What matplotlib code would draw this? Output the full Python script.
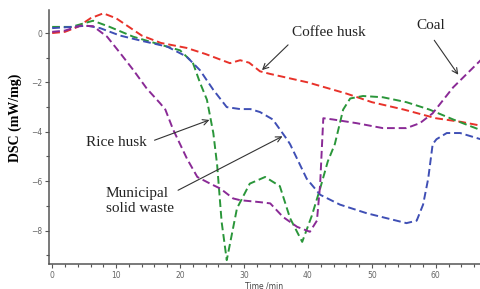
import matplotlib.pyplot as plt
from matplotlib.ticker import MultipleLocator

# DSC curves (time in min, DSC in mW/mg)
t_coffee = [0, 2, 4, 6, 8, 10, 12, 14, 17, 21, 24, 27.8, 29.4, 30.8, 32.5, 34, 40, 46, 50, 55, 60, 64, 67]
dsc_coffee = [0.0, 0.05, 0.25, 0.6, 0.8, 0.6, 0.25, -0.1, -0.4, -0.6, -0.85, -1.22, -1.1, -1.2, -1.55, -1.65,
              -2.0, -2.45, -2.8, -3.1, -3.45, -3.6, -3.75]

t_rice = [0, 3, 6.4, 9, 12.7, 16, 20, 22, 23.1, 24.2, 25.2, 25.8, 26.5, 27.3, 28.9, 30.9, 33.3, 35.6, 37.2,
          39.1, 40.6, 41.9, 43.1, 44.2, 45.5, 46.6, 48.6, 51.7, 55.4, 59, 62.7, 67]
dsc_rice = [0.25, 0.25, 0.5, 0.25, -0.15, -0.4, -0.7, -1.2, -2.0, -2.7, -4.05, -5.35, -7.65, -9.2, -7.1, -6.1,
            -5.83, -6.2, -7.5, -8.46, -7.4, -6.3, -5.2, -4.5, -3.1, -2.65, -2.55, -2.6, -2.8, -3.1, -3.5, -3.93]

t_msw = [0, 3, 5.4, 7.5, 10.6, 13.75, 18, 21, 23.1, 25.2, 27.3, 29.4, 31, 32.5, 34.5, 36.7, 37.2, 39.8, 41.9,
         45, 49.2, 52.3, 55.4, 57, 58, 58.8, 59.5, 60.1, 61.7, 63.8, 67]
dsc_msw = [0.2, 0.25, 0.3, 0.2, -0.1, -0.3, -0.55, -0.95, -1.5, -2.3, -3.0, -3.08, -3.08, -3.2, -3.5, -4.3,
           -4.5, -5.9, -6.55, -6.95, -7.3, -7.5, -7.7, -7.6, -6.95, -5.9, -4.5, -4.3, -4.05, -4.05, -4.3]

t_coal = [0, 2, 4.4, 6.4, 8.6, 10.6, 12.7, 14.8, 16.9, 17.7, 18.9, 20, 21.1, 22.7, 24.7, 26.3, 28.3, 29.4,
          32.5, 34.1, 36.1, 38.3, 40.3, 41.4, 41.9, 42.2, 42.4, 43.9, 47.6, 51.7, 55.4, 57.5, 59.5, 62.7, 67]
dsc_coal = [0.05, 0.1, 0.3, 0.28, -0.15, -0.8, -1.5, -2.25, -2.85, -3.1, -3.9, -4.5, -5.1, -5.83, -6.1, -6.3,
            -6.7, -6.77, -6.85, -6.9, -7.45, -7.85, -8.05, -7.6, -6.15, -4.5, -3.45, -3.5, -3.65, -3.85, -3.85,
            -3.65, -3.25, -2.2, -1.1]

fig = plt.figure(figsize=(4.8, 2.89), dpi=100)
ax = fig.add_axes([0.102, 0.087, 0.898, 0.878])

dash = (4, 2)
ax.plot(t_coffee, dsc_coffee, color='#e8322a', lw=1.4, dashes=dash)
ax.plot(t_rice, dsc_rice, color='#2a963a', lw=1.4, dashes=dash)
ax.plot(t_msw, dsc_msw, color='#3f4fb5', lw=1.4, dashes=dash)
ax.plot(t_coal, dsc_coal, color='#8a2a96', lw=1.4, dashes=dash)

ax.set_xlim(-0.5, 66.9)
ax.set_ylim(-9.35, 0.93)
ax.xaxis.set_major_locator(MultipleLocator(10))
ax.xaxis.set_minor_locator(MultipleLocator(2))
ax.yaxis.set_major_locator(MultipleLocator(2))
ax.yaxis.set_minor_locator(MultipleLocator(1))
for s in ['top', 'right']:
    ax.spines[s].set_visible(False)
for s in ['left', 'bottom']:
    ax.spines[s].set_color('#555555')
    ax.spines[s].set_linewidth(1.1)
ax.tick_params(which='both', colors='#555555', labelsize=5.5, labelcolor='#666666', pad=2)
ax.tick_params(which='major', length=3, width=0.8)
ax.tick_params(which='minor', length=2, width=0.8)

ax.set_ylabel('DSC (mW/mg)', family='Liberation Serif', fontweight='bold', fontsize=10)
ax.yaxis.set_label_coords(-0.063, 0.575)
ax.set_xlabel('Time /min', fontsize=5.5, color='#444444', labelpad=1)

serif = dict(family='Liberation Serif', fontsize=11, color='#222222')
arrow = dict(arrowstyle='->', color='#333333', lw=0.8)

ax.text(43.3, 0.04, 'Coffee husk', ha='center', va='center', **serif)
ax.annotate('', xy=(32.5, -1.58), xytext=(37.2, -0.4), arrowprops=arrow)

ax.text(59.2, 0.32, 'Coal', ha='center', va='center', **serif)
ax.annotate('', xy=(63.75, -1.78), xytext=(59.5, -0.2), arrowprops=arrow)

ax.text(10, -4.45, 'Rice husk', ha='center', va='center', **serif)
ax.annotate('', xy=(25, -3.48), xytext=(15.6, -4.38), arrowprops=arrow)

ax.text(8.4, -6.8, 'Municipal\nsolid waste', ha='left', va='center', linespacing=1.15, **serif)
ax.annotate('', xy=(36.4, -4.13), xytext=(19.3, -6.42), arrowprops=arrow)

fig.savefig('out.png', dpi=100)
